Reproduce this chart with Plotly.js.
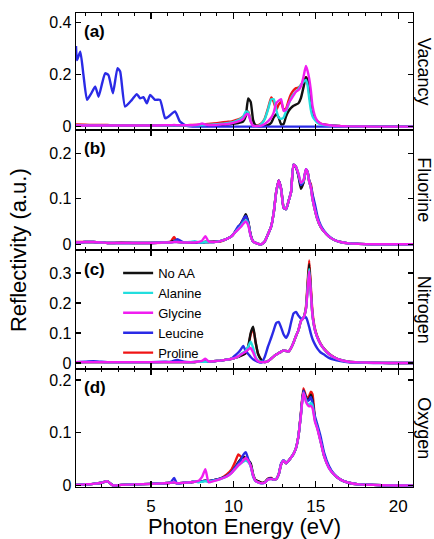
<!DOCTYPE html>
<html>
<head>
<meta charset="utf-8">
<script src="https://cdn.plot.ly/plotly-3.0.1.min.js"></script>
<style>html,body{margin:0;padding:0;background:#fff;}#chart{width:434px;height:539px;}</style>
</head>
<body>
<div id="chart"></div>
<script>
// Photon energy grid (eV)
const E = [0.45,1.0,1.5,2.0,2.35,2.7,3.2,4.0,5.0,5.8,
 6.2,6.4,6.6,7.0,7.4,7.65,7.9,8.1,8.3,8.5,
 8.8,9.2,9.6,9.9,10.1,10.3,10.45,10.6,10.75,10.9,
 11.05,11.2,11.35,11.5,11.7,11.9,12.1,12.3,12.45,12.6,
 12.75,12.9,13.05,13.2,13.35,13.5,13.65,13.8,13.95,14.1,
 14.25,14.4,14.5,14.6,14.7,14.8,14.95,15.1,15.3,15.5,
 15.8,16.1,16.5,17.0,17.6,18.5,19.5,20.9];

const seriesNames = ["No AA","Alanine","Glycine","Leucine","Proline"];
const panelNames = ["Vacancy","Fluorine","Nitrogen","Oxygen"];
const panelTags = ["(a)","(b)","(c)","(d)"];

// (a) Vacancy
const vacNoAA = [0.004,0.004,0.003,0.003,0.003,0.003,0.003,0.003,0.003,0.003,
 0.003,0.003,0.003,0.003,0.003,0.003,0.004,0.004,0.004,0.004,
 0.005,0.006,0.008,0.010,0.012,0.014,0.016,0.020,0.040,0.108,
 0.095,0.025,0.004,0.002,0.002,0.003,0.006,0.015,0.035,0.048,
 0.035,0.008,0.010,0.040,0.060,0.072,0.080,0.085,0.090,0.110,
 0.150,0.190,0.180,0.140,0.090,0.055,0.030,0.018,0.010,0.007,
 0.004,0.003,0.002,0.001,0.001,0,0,0];
const vacAla = [0.005,0.005,0.004,0.004,0.004,0.004,0.004,0.004,0.004,0.004,
 0.004,0.004,0.004,0.004,0.004,0.005,0.005,0.006,0.006,0.007,
 0.008,0.010,0.013,0.016,0.020,0.025,0.030,0.038,0.058,0.055,
 0.020,0.003,0.002,0.003,0.010,0.028,0.065,0.105,0.105,0.065,
 0.035,0.030,0.035,0.060,0.085,0.110,0.125,0.135,0.145,0.160,
 0.172,0.180,0.160,0.110,0.065,0.040,0.025,0.015,0.009,0.006,
 0.004,0.003,0.002,0.001,0.001,0,0,0];
const vacGly = [0.004,0.004,0.004,0.004,0.004,0.004,0.004,0.004,0.004,0.005,
 0.005,0.006,0.005,0.005,0.005,0.006,0.008,0.012,0.008,0.006,
 0.006,0.008,0.010,0.013,0.016,0.020,0.024,0.030,0.045,0.048,
 0.020,0.003,0.002,0.002,0.004,0.010,0.020,0.035,0.055,0.090,
 0.100,0.105,0.060,0.065,0.090,0.105,0.120,0.135,0.140,0.155,
 0.190,0.233,0.215,0.185,0.140,0.080,0.040,0.022,0.012,0.008,
 0.005,0.003,0.002,0.001,0.001,0,0,0];
const vacLeuE = [0.45,0.51,0.71,0.9,1.12,1.35,1.62,1.82,2.05,2.22,2.42,2.69,2.97,3.13,3.43,3.84,4.14,4.34,4.54,4.75,4.95,5.25,5.55,5.86,6.05,6.46,6.76,7.17,7.77,9.0,12.0,15.0,18.0,20.9];
const vacLeu = [0.31,0.256,0.288,0.2,0.103,0.125,0.154,0.115,0.17,0.205,0.198,0.128,0.225,0.212,0.077,0.103,0.125,0.109,0.113,0.09,0.122,0.103,0.103,0.032,0.038,0.058,0.019,0.003,0.0,0.0,0.0,0.0,0.0,0.0];
const vacPro = [0.008,0.007,0.006,0.006,0.006,0.005,0.005,0.005,0.005,0.005,
 0.005,0.005,0.005,0.005,0.006,0.006,0.007,0.008,0.009,0.010,
 0.012,0.015,0.018,0.020,0.024,0.028,0.032,0.038,0.050,0.058,
 0.025,0.004,0.003,0.005,0.012,0.030,0.070,0.112,0.095,0.065,
 0.085,0.095,0.065,0.070,0.100,0.125,0.140,0.148,0.150,0.160,
 0.175,0.190,0.175,0.130,0.085,0.055,0.032,0.020,0.012,0.008,
 0.005,0.003,0.002,0.001,0.001,0,0,0];

// (b) Fluorine
const fluNoAA = [0.004,0.005,0.005,0.004,0.003,0.003,0.003,0.003,0.003,0.004,
 0.005,0.008,0.006,0.004,0.004,0.004,0.004,0.004,0.005,0.005,
 0.005,0.007,0.012,0.018,0.027,0.037,0.045,0.055,0.066,0.050,
 0.020,0.006,0.003,0.001,0.000,0.006,0.022,0.040,0.070,0.115,
 0.140,0.120,0.080,0.077,0.095,0.115,0.175,0.168,0.150,0.122,
 0.135,0.163,0.158,0.138,0.125,0.100,0.075,0.055,0.038,0.028,
 0.017,0.010,0.005,0.002,0.001,0,0,0];
const fluAla = [0.004,0.005,0.005,0.004,0.003,0.003,0.003,0.003,0.003,0.004,
 0.004,0.005,0.005,0.004,0.005,0.007,0.004,0.004,0.005,0.005,
 0.005,0.007,0.012,0.018,0.026,0.034,0.040,0.048,0.053,0.045,
 0.018,0.006,0.003,0.001,0.000,0.006,0.022,0.040,0.070,0.115,
 0.138,0.120,0.082,0.078,0.095,0.115,0.175,0.170,0.155,0.135,
 0.138,0.163,0.158,0.138,0.125,0.100,0.075,0.055,0.038,0.028,
 0.017,0.010,0.005,0.002,0.001,0,0,0];
const fluGly = [0.004,0.005,0.005,0.004,0.003,0.003,0.003,0.003,0.003,0.004,
 0.004,0.005,0.005,0.004,0.004,0.004,0.005,0.008,0.018,0.006,
 0.005,0.007,0.012,0.018,0.026,0.033,0.038,0.045,0.050,0.042,
 0.018,0.006,0.003,0.001,0.000,0.006,0.022,0.040,0.070,0.115,
 0.140,0.120,0.080,0.078,0.095,0.115,0.175,0.170,0.155,0.135,
 0.140,0.165,0.158,0.138,0.125,0.100,0.075,0.055,0.038,0.028,
 0.017,0.010,0.005,0.002,0.001,0,0,0];
const fluLeu = [0.004,0.005,0.005,0.004,0.003,0.003,0.003,0.003,0.003,0.004,
 0.004,0.006,0.011,0.004,0.004,0.004,0.004,0.004,0.005,0.005,
 0.005,0.007,0.012,0.018,0.028,0.040,0.044,0.055,0.062,0.048,
 0.020,0.006,0.003,0.001,0.000,0.006,0.022,0.040,0.070,0.115,
 0.140,0.122,0.080,0.077,0.095,0.115,0.175,0.170,0.152,0.130,
 0.137,0.165,0.160,0.140,0.128,0.110,0.088,0.062,0.042,0.030,
 0.018,0.010,0.005,0.002,0.001,0,0,0];
const fluPro = [0.005,0.005,0.005,0.004,0.003,0.003,0.004,0.003,0.003,0.004,
 0.006,0.016,0.005,0.004,0.004,0.004,0.004,0.004,0.005,0.005,
 0.007,0.006,0.012,0.018,0.027,0.037,0.045,0.053,0.062,0.048,
 0.020,0.006,0.003,0.001,0.000,0.006,0.022,0.040,0.070,0.115,
 0.140,0.122,0.082,0.078,0.095,0.115,0.175,0.170,0.152,0.128,
 0.135,0.162,0.160,0.140,0.132,0.110,0.078,0.056,0.038,0.028,
 0.017,0.010,0.005,0.002,0.001,0,0,0];

// (c) Nitrogen
const nitNoAA = [0.003,0.003,0.003,0.003,0.003,0.003,0.003,0.003,0.003,0.003,
 0.003,0.003,0.003,0.003,0.003,0.003,0.004,0.004,0.004,0.005,
 0.006,0.008,0.011,0.014,0.017,0.020,0.024,0.028,0.033,0.055,
 0.100,0.121,0.070,0.030,0.010,0.003,0.006,0.015,0.022,0.028,
 0.033,0.038,0.042,0.040,0.038,0.050,0.068,0.090,0.110,0.140,
 0.150,0.180,0.250,0.330,0.240,0.160,0.110,0.085,0.062,0.047,
 0.030,0.019,0.010,0.004,0.002,0.001,0,0];
const nitAla = [0.003,0.003,0.003,0.003,0.003,0.003,0.003,0.003,0.003,0.003,
 0.003,0.003,0.003,0.003,0.003,0.004,0.004,0.004,0.004,0.005,
 0.006,0.008,0.011,0.014,0.017,0.022,0.030,0.035,0.040,0.055,
 0.071,0.050,0.020,0.008,0.004,0.003,0.006,0.015,0.022,0.028,
 0.033,0.038,0.042,0.040,0.038,0.050,0.068,0.090,0.110,0.140,
 0.150,0.180,0.245,0.314,0.230,0.160,0.110,0.085,0.062,0.047,
 0.030,0.019,0.010,0.004,0.002,0.001,0,0];
const nitGly = [0.003,0.003,0.003,0.003,0.003,0.003,0.003,0.003,0.003,0.003,
 0.003,0.003,0.003,0.003,0.003,0.004,0.005,0.007,0.014,0.005,
 0.006,0.008,0.011,0.014,0.017,0.022,0.028,0.033,0.038,0.045,
 0.050,0.035,0.015,0.006,0.003,0.003,0.006,0.015,0.022,0.028,
 0.033,0.038,0.042,0.040,0.038,0.050,0.068,0.090,0.110,0.140,
 0.150,0.178,0.240,0.306,0.235,0.160,0.110,0.085,0.062,0.047,
 0.030,0.019,0.010,0.004,0.002,0.001,0,0];
const nitLeu = [0.003,0.004,0.006,0.004,0.003,0.003,0.003,0.003,0.003,0.004,
 0.004,0.008,0.010,0.004,0.003,0.003,0.004,0.004,0.004,0.005,
 0.006,0.008,0.011,0.015,0.025,0.035,0.045,0.057,0.040,0.030,
 0.020,0.012,0.008,0.004,0.001,0.020,0.055,0.085,0.110,0.133,
 0.137,0.118,0.095,0.084,0.100,0.135,0.165,0.170,0.158,0.148,
 0.150,0.153,0.140,0.120,0.098,0.080,0.062,0.048,0.035,0.028,
 0.017,0.011,0.006,0.002,0.001,0,0,0];
const nitPro = [0.003,0.003,0.003,0.003,0.003,0.003,0.003,0.003,0.003,0.003,
 0.003,0.003,0.003,0.003,0.003,0.003,0.004,0.004,0.004,0.005,
 0.006,0.008,0.011,0.014,0.017,0.020,0.024,0.028,0.033,0.052,
 0.095,0.115,0.068,0.030,0.010,0.003,0.006,0.015,0.022,0.028,
 0.033,0.038,0.042,0.040,0.038,0.050,0.068,0.090,0.110,0.140,
 0.150,0.185,0.265,0.342,0.255,0.170,0.115,0.088,0.064,0.048,
 0.031,0.020,0.010,0.004,0.002,0.001,0,0];

// (d) Oxygen
const oxyNoAA = [0.001,0.002,0.003,0.005,0.008,0.000,0.001,0.002,0.003,0.004,
 0.005,0.006,0.004,0.005,0.006,0.007,0.007,0.008,0.009,0.008,
 0.010,0.013,0.018,0.025,0.034,0.044,0.050,0.055,0.052,0.048,
 0.042,0.021,0.010,0.008,0.005,0.006,0.012,0.013,0.011,0.012,
 0.021,0.040,0.047,0.042,0.047,0.053,0.060,0.071,0.094,0.136,
 0.180,0.167,0.162,0.165,0.172,0.162,0.125,0.110,0.084,0.057,
 0.034,0.021,0.011,0.005,0.002,0.001,0,0];
const oxyAla = [0.001,0.002,0.003,0.005,0.008,0.000,0.001,0.002,0.003,0.004,
 0.005,0.006,0.004,0.005,0.006,0.008,0.006,0.007,0.008,0.007,
 0.009,0.012,0.017,0.024,0.031,0.038,0.042,0.045,0.047,0.044,
 0.037,0.019,0.008,0.006,0.004,0.005,0.011,0.012,0.011,0.012,
 0.021,0.040,0.047,0.042,0.047,0.053,0.060,0.071,0.094,0.134,
 0.176,0.162,0.155,0.152,0.157,0.152,0.123,0.108,0.082,0.056,
 0.033,0.021,0.011,0.005,0.002,0.001,0,0];
const oxyGly = [0.001,0.002,0.003,0.005,0.008,0.000,0.001,0.002,0.003,0.004,
 0.005,0.006,0.004,0.005,0.006,0.007,0.009,0.016,0.031,0.006,
 0.008,0.012,0.017,0.024,0.031,0.038,0.042,0.047,0.052,0.047,
 0.037,0.019,0.008,0.006,0.004,0.005,0.011,0.012,0.011,0.012,
 0.021,0.040,0.047,0.042,0.047,0.053,0.060,0.071,0.094,0.134,
 0.176,0.159,0.153,0.150,0.151,0.147,0.121,0.107,0.082,0.056,
 0.033,0.021,0.011,0.005,0.002,0.001,0,0];
const oxyLeu = [0.001,0.002,0.003,0.005,0.008,0.000,0.001,0.002,0.003,0.004,
 0.006,0.014,0.003,0.005,0.006,0.007,0.007,0.008,0.009,0.008,
 0.010,0.013,0.018,0.026,0.034,0.042,0.048,0.058,0.063,0.050,
 0.037,0.017,0.008,0.006,0.004,0.005,0.012,0.013,0.011,0.012,
 0.021,0.042,0.048,0.042,0.047,0.053,0.060,0.071,0.094,0.136,
 0.180,0.165,0.160,0.162,0.168,0.157,0.131,0.115,0.092,0.063,
 0.037,0.022,0.011,0.005,0.002,0.001,0,0];
const oxyPro = [0.001,0.002,0.003,0.005,0.008,0.000,0.001,0.002,0.003,0.004,
 0.005,0.006,0.004,0.005,0.006,0.007,0.007,0.008,0.009,0.008,
 0.010,0.013,0.021,0.031,0.044,0.059,0.055,0.052,0.052,0.047,
 0.040,0.019,0.010,0.008,0.005,0.006,0.013,0.014,0.011,0.012,
 0.021,0.040,0.047,0.042,0.047,0.053,0.060,0.071,0.094,0.138,
 0.184,0.170,0.165,0.170,0.178,0.173,0.128,0.110,0.084,0.057,
 0.034,0.021,0.011,0.005,0.002,0.001,0,0];

const colors = {"No AA":"#111111","Alanine":"#22dede","Glycine":"#f01ef0","Leucine":"#2a2ae6","Proline":"#f01414"};
const panels = [
  {"No AA":[E,vacNoAA],"Alanine":[E,vacAla],"Glycine":[E,vacGly],"Leucine":[vacLeuE,vacLeu],"Proline":[E,vacPro]},
  {"No AA":[E,fluNoAA],"Alanine":[E,fluAla],"Glycine":[E,fluGly],"Leucine":[E,fluLeu],"Proline":[E,fluPro]},
  {"No AA":[E,nitNoAA],"Alanine":[E,nitAla],"Glycine":[E,nitGly],"Leucine":[E,nitLeu],"Proline":[E,nitPro]},
  {"No AA":[E,oxyNoAA],"Alanine":[E,oxyAla],"Glycine":[E,oxyGly],"Leucine":[E,oxyLeu],"Proline":[E,oxyPro]}
];
const drawOrder = ["Proline","No AA","Leucine","Alanine","Glycine"];
const yRanges = [[-0.013,0.437],[-0.0125,0.251],[-0.02,0.377],[-0.003,0.221]];
const yTicks = [[0,0.2,0.4],[0,0.1,0.2],[0,0.1,0.2,0.3],[0,0.1,0.2]];
const domains = [[0.7532,1],[0.5,0.7532],[0.249,0.5],[0,0.249]];

const FONT = "Liberation Sans, Arial, Helvetica, sans-serif";
const traces = [];
panels.forEach((p, i) => {
  const ax = i === 0 ? "" : String(i + 1);
  drawOrder.forEach(name => {
    traces.push({
      type: "scatter", mode: "lines", name: name,
      x: p[name][0], y: p[name][1],
      xaxis: "x" + ax, yaxis: "y" + ax,
      line: {color: colors[name], width: 2.4, shape: "spline", smoothing: 0.5},
      showlegend: i === 2,
      legendrank: seriesNames.indexOf(name) + 1
    });
  });
});

const layout = {
  width: 434, height: 539,
  margin: {l: 76, r: 21, t: 13, b: 52},
  paper_bgcolor: "#fff", plot_bgcolor: "#fff",
  font: {family: FONT, color: "#000", size: 16},
  showlegend: true,
  legend: {x: 0.125, y: 0.483, xanchor: "left", yanchor: "top", bgcolor: "rgba(0,0,0,0)",
           font: {size: 13, family: FONT}, traceorder: "normal"},
  annotations: []
};
for (let i = 0; i < 4; i++) {
  const ax = i === 0 ? "" : String(i + 1);
  layout["xaxis" + ax] = {
    range: [0.45, 20.9], anchor: "y" + ax, domain: [0, 1],
    showline: true, linecolor: "#000", linewidth: 1.3, mirror: "ticks",
    ticks: "inside", ticklen: 6, tickwidth: 1.2, tickcolor: "#000",
    tick0: 0, dtick: 5,
    minor: {dtick: 1, ticks: "inside", ticklen: 3, tickcolor: "#000", tickwidth: 1},
    showgrid: false, zeroline: false, showticklabels: i === 3,
    tickfont: {size: 17}, ticklabelstandoff: 3
  };
  if (i > 0) layout["xaxis" + ax].matches = "x";
  layout["yaxis" + ax] = {
    range: yRanges[i], domain: domains[i], anchor: "x" + ax,
    showline: true, linecolor: "#000", linewidth: 1.3, mirror: "ticks",
    ticks: "inside", ticklen: 5, tickwidth: 1.2, tickcolor: "#000",
    tickvals: yTicks[i], ticktext: yTicks[i].map(v => v === 0 ? "0" : String(v)),
    showgrid: false, zeroline: false, tickfont: {size: 16}
  };
  const top = (domains[i][1]);
  layout.annotations.push({
    text: "<b>" + panelTags[i] + "</b>", xref: "paper", yref: "paper",
    x: 0.018, y: top - 19 / 474, xanchor: "left", yanchor: "middle",
    showarrow: false, font: {size: 17, family: FONT}
  });
  layout.annotations.push({
    text: panelNames[i], xref: "paper", yref: "paper",
    x: 1.032, y: (domains[i][0] + domains[i][1]) / 2, xanchor: "center", yanchor: "middle",
    textangle: 90, showarrow: false, font: {size: 18, family: FONT}
  });
}
layout.xaxis4.title = {text: "Photon Energy (eV)", font: {size: 22, family: FONT}, standoff: 9};
layout.annotations.push({
  text: "Reflectivity (a.u.)", xref: "paper", yref: "paper",
  x: -0.172, y: 0.5, xanchor: "center", yanchor: "middle", textangle: -90,
  showarrow: false, font: {size: 22, family: FONT}
});

Plotly.newPlot("chart", traces, layout, {displayModeBar: false, staticPlot: true});
</script>
</body>
</html>
